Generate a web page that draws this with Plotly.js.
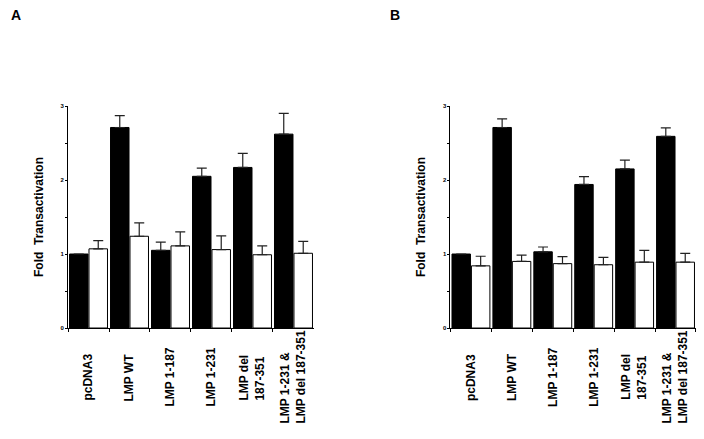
<!DOCTYPE html>
<html>
<head>
<meta charset="utf-8">
<script src="https://cdn.plot.ly/plotly-3.0.1.min.js"></script>
<style>html,body{margin:0;padding:0;background:#fff;}#chart{width:704px;height:439px;}</style>
</head>
<body>
<div id="chart"></div>
<script>
// Categories (x-axis labels)
const categories = ["pcDNA3", "LMP WT", "LMP 1-187", "LMP 1-231", "LMP del<br>187-351", "LMP 1-231 &<br>LMP del 187-351"];
const yTicks = [0, 1, 2, 3];

// Panel A
const aBlack = [1.00, 2.71, 1.05, 2.05, 2.17, 2.62];
const aBlackErr = [0, 0.16, 0.11, 0.11, 0.19, 0.28];
const aWhite = [1.07, 1.24, 1.11, 1.06, 0.99, 1.01];
const aWhiteErr = [0.11, 0.18, 0.19, 0.185, 0.12, 0.16];

// Panel B
const bBlack = [1.00, 2.71, 1.03, 1.94, 2.15, 2.59];
const bBlackErr = [0, 0.115, 0.065, 0.105, 0.12, 0.115];
const bWhite = [0.84, 0.90, 0.87, 0.855, 0.89, 0.89];
const bWhiteErr = [0.13, 0.085, 0.095, 0.10, 0.16, 0.12];

const FONT = "Liberation Sans, Arial, sans-serif";

function barTrace(vals, errs, fill, xa, ya) {
  return {
    type: "bar", x: categories, y: vals, xaxis: xa, yaxis: ya,
    marker: {color: fill, line: {color: "#000", width: 1}},
    error_y: {type: "data", symmetric: false, array: errs, arrayminus: errs.map(() => 0),
              color: "#222", thickness: 1.2, width: 5},
    showlegend: false, hoverinfo: "skip"
  };
}

const data = [
  barTrace(aBlack, aBlackErr, "#000", "x", "y"),
  barTrace(aWhite, aWhiteErr, "#fff", "x", "y"),
  barTrace(bBlack, bBlackErr, "#000", "x2", "y2"),
  barTrace(bWhite, bWhiteErr, "#fff", "x2", "y2")
];

function xAxis(domain, anchor) {
  return {
    domain: domain, anchor: anchor, type: "category",
    showline: true, linecolor: "#000", linewidth: 1,
    ticks: "outside", tickson: "boundaries", ticklen: 3, tickcolor: "#000", tickwidth: 1,
    showticklabels: false, showgrid: false, zeroline: false, fixedrange: true
  };
}
function yAxis(anchor) {
  return {
    domain: [0.2528, 0.7585], anchor: anchor, range: [0, 3],
    tickvals: yTicks, ticktext: yTicks.map(String),
    showline: true, linecolor: "#000", linewidth: 1,
    ticks: "outside", ticklen: 2, tickcolor: "#000", tickwidth: 1,
    minor: {dtick: 0.5, ticks: "outside", ticklen: 2, tickcolor: "#000"},
    tickfont: {family: FONT, size: 6, color: "#000", weight: "bold"},
    showgrid: false, zeroline: false, fixedrange: true,
    title: {text: "Fold  Transactivation", standoff: 14,
            font: {family: FONT, size: 12, color: "#000", weight: "bold"}}
  };
}

const annotations = [
  {text: "A", xref: "paper", yref: "paper", x: 0.0234, y: 0.9647, showarrow: false,
   xanchor: "center", yanchor: "middle", font: {family: FONT, size: 14, color: "#000", weight: "bold"}},
  {text: "B", xref: "paper", yref: "paper", x: 0.5604, y: 0.9647, showarrow: false,
   xanchor: "center", yanchor: "middle", font: {family: FONT, size: 14, color: "#000", weight: "bold"}}
];
["x", "x2"].forEach(xr => {
  categories.forEach(c => {
    annotations.push({
      text: c, xref: xr, yref: "paper", x: c, y: 0.141, showarrow: false,
      textangle: -90, xanchor: "center", yanchor: "middle", align: "left",
      font: {family: FONT, size: 12, color: "#000", weight: "bold"}
    });
  });
});

const layout = {
  width: 704, height: 439,
  margin: {l: 0, r: 0, t: 0, b: 0},
  paper_bgcolor: "#fff", plot_bgcolor: "#fff",
  barmode: "group", bargap: 0.05, bargroupgap: 0.05,
  xaxis: xAxis([0.0966, 0.446], "y"),
  yaxis: yAxis("x"),
  xaxis2: xAxis([0.6399, 0.9886], "y2"),
  yaxis2: yAxis("x2"),
  annotations: annotations,
  showlegend: false
};

Plotly.newPlot("chart", data, layout, {staticPlot: true, displayModeBar: false});
</script>
</body>
</html>
